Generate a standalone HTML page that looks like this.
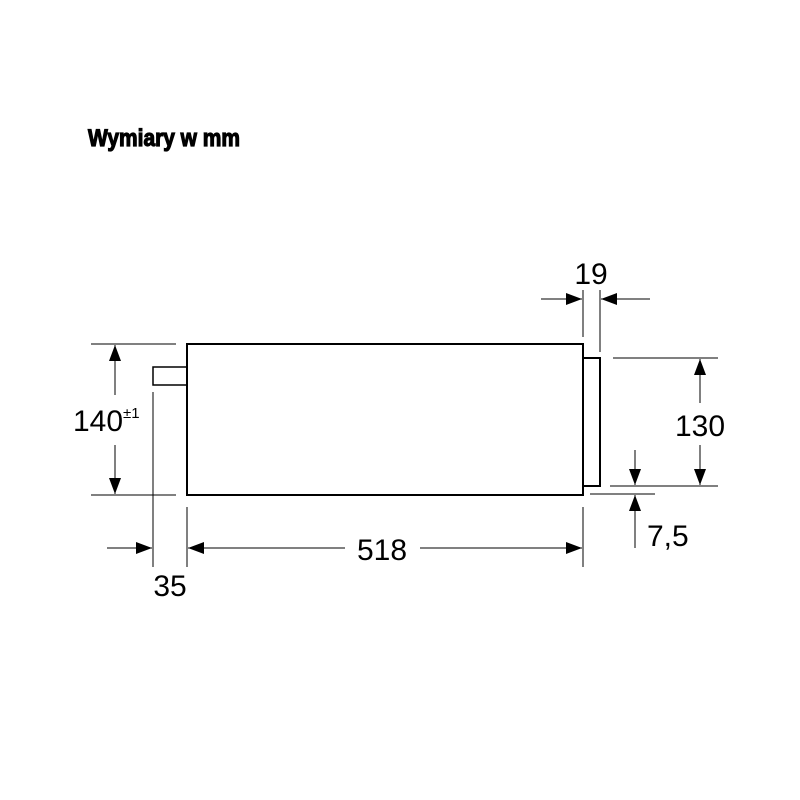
<!DOCTYPE html>
<html><head><meta charset="utf-8"><style>
html,body{margin:0;padding:0;background:#fff;width:800px;height:800px;overflow:hidden}
</style></head><body>
<svg width="800" height="800" viewBox="0 0 800 800" xmlns="http://www.w3.org/2000/svg" font-family="Liberation Sans, Arial, sans-serif">
<defs>
<marker id="a" viewBox="0 0 16 12" refX="16" refY="6" markerWidth="16" markerHeight="12" markerUnits="userSpaceOnUse" orient="auto"><path d="M0,0 L16,6 L0,12 z" fill="#000"/></marker>
</defs>
<text x="88" y="146" font-size="24" font-weight="bold" stroke="#000" stroke-width="1.2" textLength="152" lengthAdjust="spacingAndGlyphs">Wymiary w mm</text>
<g fill="none" stroke="#000">
<rect x="187" y="344" width="396" height="151" stroke-width="2"/>
<rect x="583" y="358" width="17" height="128" stroke-width="2"/>
<rect x="153" y="367" width="34" height="18" stroke-width="1.5"/>
<g stroke-width="1">
<line x1="91" y1="344" x2="176" y2="344"/>
<line x1="91" y1="495" x2="176" y2="495"/>
<line x1="153" y1="392" x2="153" y2="567"/>
<line x1="187" y1="507" x2="187" y2="567"/>
<line x1="583" y1="507" x2="583" y2="567"/>
<line x1="583" y1="290" x2="583" y2="337"/>
<line x1="600" y1="290" x2="600" y2="352"/>
<line x1="613" y1="358" x2="718" y2="358"/>
<line x1="610" y1="486" x2="718" y2="486"/>
<line x1="590" y1="494" x2="655" y2="494"/>
<line x1="115" y1="395" x2="115" y2="345" marker-end="url(#a)"/>
<line x1="115" y1="445" x2="115" y2="494" marker-end="url(#a)"/>
<line x1="107" y1="548" x2="152" y2="548" marker-end="url(#a)"/>
<line x1="345" y1="548" x2="188" y2="548" marker-end="url(#a)"/>
<line x1="420" y1="548" x2="582" y2="548" marker-end="url(#a)"/>
<line x1="541" y1="299" x2="582" y2="299" marker-end="url(#a)"/>
<line x1="650" y1="299" x2="601" y2="299" marker-end="url(#a)"/>
<line x1="700" y1="403" x2="700" y2="359" marker-end="url(#a)"/>
<line x1="700" y1="445" x2="700" y2="485" marker-end="url(#a)"/>
<line x1="635" y1="450" x2="635" y2="485" marker-end="url(#a)"/>
<line x1="635" y1="548" x2="635" y2="495" marker-end="url(#a)"/>
</g>
</g>
<g font-size="30" fill="#000">
<text x="73" y="431" textLength="50" lengthAdjust="spacingAndGlyphs">140</text>
<text x="123" y="418" font-size="15">±1</text>
<text x="382" y="560" text-anchor="middle">518</text>
<text x="170" y="596" text-anchor="middle">35</text>
<text x="591" y="284" text-anchor="middle">19</text>
<text x="700" y="436" text-anchor="middle">130</text>
<text x="647" y="546">7,5</text>
</g>
</svg>
</body></html>
